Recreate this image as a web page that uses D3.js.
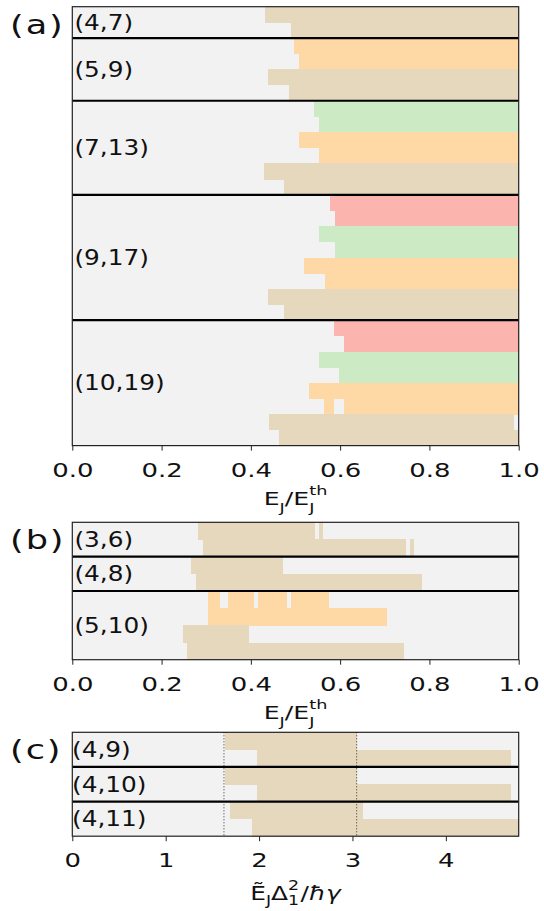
<!DOCTYPE html>
<html>
<head>
<meta charset="utf-8">
<script src="https://cdn.jsdelivr.net/npm/d3@7"></script>
<style>
  body { margin: 0; background: #fff; }
  svg { display: block; font-family: "DejaVu Sans", sans-serif; }
</style>
</head>
<body>
<svg id="chart" width="544" height="911"></svg>
<script>
// level of each row -> colour (1 = tan, 2 = orange, 3 = green, 4 = red)
const levels = [1, 2, 3, 4];
const levelColors = ["#e5d8bd", "#fed9a6", "#ccebc5", "#fbb4ae"];

// panel (a): each row is [group index, level, [[start, end], ...]]
const groupsA = ["(4,7)", "(5,9)", "(7,13)", "(9,17)", "(10,19)"];
const rowsA = [
    [0, 1, [[0.432, 1]]],
    [0, 1, [[0.490, 1]]],
    [1, 2, [[0.497, 1]]],
    [1, 2, [[0.508, 1]]],
    [1, 1, [[0.438, 1]]],
    [1, 1, [[0.486, 1]]],
    [2, 3, [[0.541, 1]]],
    [2, 3, [[0.553, 1]]],
    [2, 2, [[0.508, 1]]],
    [2, 2, [[0.553, 1]]],
    [2, 1, [[0.429, 1]]],
    [2, 1, [[0.474, 1]]],
    [3, 4, [[0.577, 1]]],
    [3, 4, [[0.588, 1]]],
    [3, 3, [[0.553, 1]]],
    [3, 3, [[0.588, 1]]],
    [3, 2, [[0.519, 1]]],
    [3, 2, [[0.566, 1]]],
    [3, 1, [[0.438, 1]]],
    [3, 1, [[0.474, 1]]],
    [4, 4, [[0.586, 1]]],
    [4, 4, [[0.609, 1]]],
    [4, 3, [[0.553, 1]]],
    [4, 3, [[0.597, 1]]],
    [4, 2, [[0.530, 1]]],
    [4, 2, [[0.564, 0.586], [0.609, 1]]],
    [4, 1, [[0.441, 0.990]]],
    [4, 1, [[0.463, 1]]]
];
const ticksA = [0, 0.2, 0.4, 0.6, 0.8, 1.0];

// panel (b)
const groupsB = ["(3,6)", "(4,8)", "(5,10)"];
const rowsB = [
    [0, 1, [[0.281, 0.543], [0.553, 0.561]]],
    [0, 1, [[0.293, 0.748], [0.756, 0.765]]],
    [1, 1, [[0.266, 0.472]]],
    [1, 1, [[0.277, 0.783]]],
    [2, 2, [[0.304, 0.331], [0.349, 0.406], [0.416, 0.481], [0.490, 0.575]]],
    [2, 2, [[0.304, 0.705]]],
    [2, 1, [[0.248, 0.396]]],
    [2, 1, [[0.257, 0.743]]]
];
const ticksB = [0, 0.2, 0.4, 0.6, 0.8, 1.0];

// panel (c)
const groupsC = ["(4,9)", "(4,10)", "(4,11)"];
const rowsC = [
    [0, 1, [[1.631, 3.045]]],
    [0, 1, [[1.978, 4.693]]],
    [1, 1, [[1.631, 3.045]]],
    [1, 1, [[1.978, 4.693]]],
    [2, 1, [[1.688, 3.109]]],
    [2, 1, [[1.924, 4.78]]]
];
const ticksC = [0, 1, 2, 3, 4];
const markersC = [1.624, 3.045];

const svg = d3.select('#chart');
const left = 72.3, right = 518.7;
const color = d3.scaleOrdinal().domain(levels).range(levelColors);

// text in the reference is drawn wider than normal
function wideText(parent, x, y, size, sx, anchor) {
    return parent.append('text')
        .attr('transform', `translate(${x},${y}) scale(${sx},1)`)
        .attr('font-size', size)
        .attr('text-anchor', anchor)
        .attr('fill', '#111');
}

function drawPanel(cfg) {
    const g = svg.append('g');

    const x = d3.scaleLinear().domain(cfg.domain).range([left, right]);
    const y = d3.scaleBand()
        .domain(d3.range(cfg.rows.length))
        .range([cfg.top, cfg.bottom])
        .padding(0);

    g.append('rect')
        .attr('x', left).attr('y', cfg.top)
        .attr('width', right - left).attr('height', cfg.bottom - cfg.top)
        .attr('fill', '#f2f2f2');

    const segs = cfg.rows.flatMap((r, i) => r[2].map(s => ({ i: i, level: r[1], s: s })));
    g.selectAll('.bar')
        .data(segs)
        .join('rect')
            .attr('class', 'bar')
            .attr('shape-rendering', 'crispEdges')
            .attr('x', d => x(d.s[0]))
            .attr('width', d => x(d.s[1]) - x(d.s[0]))
            .attr('y', d => y(d.i))
            .attr('height', y.bandwidth() + 0.4)
            .attr('fill', d => color(d.level));

    if (cfg.markers) {
        g.selectAll('.marker')
            .data(cfg.markers)
            .join('line')
                .attr('class', 'marker')
                .attr('x1', d => x(d)).attr('x2', d => x(d))
                .attr('y1', cfg.top).attr('y2', cfg.bottom)
                .attr('stroke', '#333')
                .attr('stroke-width', 1)
                .attr('stroke-dasharray', '1,2');
    }

    // thick lines between groups
    const breaks = d3.range(1, cfg.rows.length).filter(i => cfg.rows[i][0] !== cfg.rows[i - 1][0]);
    g.selectAll('.sep')
        .data(breaks)
        .join('line')
            .attr('class', 'sep')
            .attr('x1', left).attr('x2', right)
            .attr('y1', d => y(d)).attr('y2', d => y(d))
            .attr('stroke', '#000')
            .attr('stroke-width', 2.2);

    g.append('rect')
        .attr('x', left).attr('y', cfg.top)
        .attr('width', right - left).attr('height', cfg.bottom - cfg.top)
        .attr('fill', 'none')
        .attr('stroke', '#222')
        .attr('stroke-width', 1.2);

    // group labels
    cfg.groups.forEach((name, gi) => {
        const idx = cfg.rows.map((r, i) => r[0] === gi ? i : -1).filter(i => i >= 0);
        const cy = (y(idx[0]) + y(idx[idx.length - 1]) + y.bandwidth()) / 2;
        wideText(g, cfg.labelX, cy + 7.5, 21, 1.18, 'start').text(name);
    });

    // x axis
    const axis = d3.axisBottom(x)
        .tickValues(cfg.ticks)
        .tickFormat(cfg.fmt)
        .tickSize(5)
        .tickPadding(12.4);
    const ax = g.append('g')
        .attr('transform', `translate(0,${cfg.bottom})`)
        .call(axis)
        .attr('font-size', null)
        .attr('font-family', null);
    ax.select('.domain').remove();
    ax.selectAll('.tick line').attr('stroke', '#222').attr('stroke-width', 1);
    ax.selectAll('.tick text')
        .attr('font-size', 19.5)
        .attr('fill', '#111')
        .attr('transform', 'scale(1.33,1)');

    // panel letter
    wideText(g, 10, cfg.top + 27, 27, 1.3, 'start')
        .attr('letter-spacing', 1.5)
        .text(cfg.letter);

    return g;
}

function labelRatio(g, baseline) {
    const t = wideText(g, (left + right) / 2, baseline, 18, 1.4, 'middle');
    t.append('tspan').text('E');
    t.append('tspan').attr('font-size', 12.6).attr('dy', 6.5).text('J');
    t.append('tspan').attr('dy', -6.5).text('/E');
    t.append('tspan').attr('font-size', 12.6).attr('dy', 6.5).text('J');
    t.append('tspan').attr('font-size', 12.6).attr('dx', -3.7).attr('dy', -16.9).text('th');
}

function labelScaled(g, baseline) {
    const t = wideText(g, (left + right) / 2, baseline, 19, 1.31, 'middle');
    t.append('tspan').text('Ẽ');
    t.append('tspan').attr('font-size', 13.3).attr('dy', 5).text('J');
    t.append('tspan').attr('dy', -5).text('Δ');
    t.append('tspan').attr('font-size', 13.3).attr('dy', 5).text('1');
    t.append('tspan').attr('font-size', 13.3).attr('dx', -8.5).attr('dy', -15.5).text('2');
    t.append('tspan').attr('dy', 10.5).attr('dx', 1).text('/');
    t.append('tspan').attr('font-style', 'italic').text('ħγ');
}

const fmt1 = d3.format('.1f');

const pa = drawPanel({ letter: '(a)', groups: groupsA, rows: rowsA, ticks: ticksA, fmt: fmt1,
    domain: [0, 1], top: 6.7, bottom: 445.6, labelX: 74.4 });
labelRatio(pa, 505);

const pb = drawPanel({ letter: '(b)', groups: groupsB, rows: rowsB, ticks: ticksB, fmt: fmt1,
    domain: [0, 1], top: 522.3, bottom: 659.7, labelX: 74.4 });
labelRatio(pb, 719);

const pc = drawPanel({ letter: '(c)', groups: groupsC, rows: rowsC, ticks: ticksC, fmt: d3.format('d'),
    domain: [0, 4.78], top: 732.3, bottom: 836.2, labelX: 72, markers: markersC });
labelScaled(pc, 900);
</script>
</body>
</html>
